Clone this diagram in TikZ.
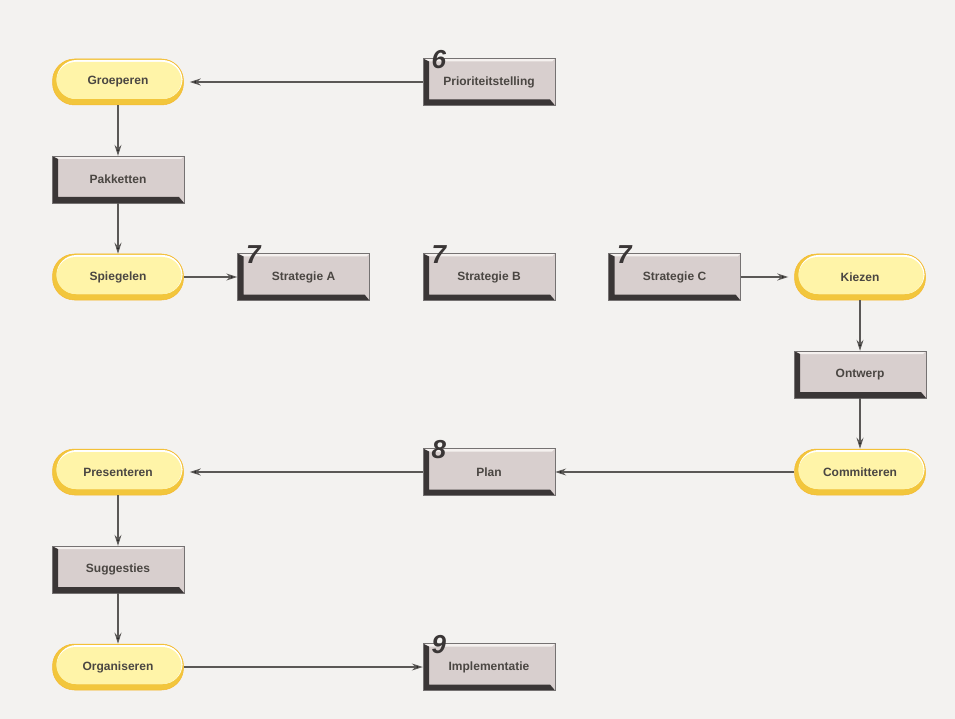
\documentclass[tikz,border=0pt]{standalone}
\usepackage{fontspec}
\setmainfont{Liberation Sans}
\usetikzlibrary{positioning,arrows.meta}

\definecolor{paper}{HTML}{F3F2F0}
\definecolor{boxfill}{HTML}{D8CFCE}
\definecolor{boxdark}{HTML}{3A3636}
\definecolor{boxlight}{HTML}{F5F1EF}
\definecolor{pillfill}{HTML}{FFF4A8}
\definecolor{pillrim}{HTML}{F2C63C}
\definecolor{inkgray}{HTML}{4A4642}
\definecolor{linegray}{HTML}{5A5856}

\tikzset{
  box/.style={rectangle, minimum width=132pt, minimum height=47pt, fill=boxfill,
    draw=boxdark!70, line width=0.4pt, text=inkgray,
    font=\fontsize{12}{14}\selectfont\bfseries,
    path picture={
      \fill[boxlight] (path picture bounding box.north west) -- (path picture bounding box.north east)
        -- ++(-3pt,-3pt) -- ([shift={(3pt,-3pt)}]path picture bounding box.north west) -- cycle;
      \fill[boxdark] (path picture bounding box.south west) -- (path picture bounding box.north west)
        -- ++(6pt,-3pt) |- ([shift={(-5pt,6pt)}]path picture bounding box.south east)
        -- (path picture bounding box.south east) -- cycle;
    }},
  pill/.style={rectangle, rounded corners=22pt, minimum width=131pt, minimum height=46pt,
    fill=pillrim, draw=pillrim!80!orange, line width=0.5pt, text=inkgray,
    font=\fontsize{12}{14}\selectfont\bfseries,
    path picture={
      \fill[white, rounded corners=20pt] ([shift={(4pt,6pt)}]path picture bounding box.south west)
        rectangle ([shift={(-1pt,-1pt)}]path picture bounding box.north east);
      \fill[pillfill, rounded corners=19pt] ([shift={(4pt,6pt)}]path picture bounding box.south west)
        rectangle ([shift={(-2pt,-3pt)}]path picture bounding box.north east);
    }},
  num/.style={anchor=center, xshift=16pt, yshift=-1pt, inner sep=0pt, text=boxdark,
    font=\fontsize{26}{26}\selectfont\bfseries\itshape},
  topill/.style={shorten >=6pt}
}

\begin{document}
\begin{tikzpicture}[>={Stealth[length=11pt,width=7pt]}, node distance=97.5pt and 185.5pt, on grid]
  \fill[paper] (0,0) rectangle (955pt,-719pt);
  \useasboundingbox (0,0) rectangle (955pt,-719pt);

  \node[pill] (groeperen) at (118pt,-82pt) {Groeperen};
  \node[box] (pakketten) [below=of groeperen] {Pakketten};
  \node[pill] (spiegelen) [below=of pakketten] {Spiegelen};
  \node[box, label={[num]north west:7}] (strategieA) [right=of spiegelen] {Strategie A};
  \node[box, label={[num]north west:7}] (strategieB) [right=of strategieA] {Strategie B};
  \node[box, label={[num]north west:7}] (strategieC) [right=of strategieB] {Strategie C};
  \node[pill] (kiezen) [right=of strategieC] {Kiezen};
  \node[box, label={[num]north west:6}] (prioriteit) [above=195pt of strategieB] {Prioriteitstelling};
  \node[box] (ontwerp) [below=of kiezen] {Ontwerp};
  \node[pill] (committeren) [below=of ontwerp] {Committeren};
  \node[box, label={[num]north west:8}] (plan) [below=195pt of strategieB] {Plan};
  \node[pill] (presenteren) [below=195pt of spiegelen] {Presenteren};
  \node[box] (suggesties) [below=of presenteren] {Suggesties};
  \node[pill] (organiseren) [below=of suggesties] {Organiseren};
  \node[box, label={[num]north west:9}] (implementatie) [below=195pt of plan] {Implementatie};

  \path[->, draw=linegray, line width=1.1pt]
    (prioriteit) edge [topill] (groeperen)
    (groeperen) edge (pakketten)
    (pakketten) edge (spiegelen)
    (spiegelen) edge (strategieA)
    (strategieC) edge [topill] (kiezen)
    (kiezen) edge (ontwerp)
    (ontwerp) edge (committeren)
    (committeren) edge (plan)
    (plan) edge [topill] (presenteren)
    (presenteren) edge (suggesties)
    (suggesties) edge (organiseren)
    (organiseren) edge (implementatie);
\end{tikzpicture}
\end{document}
